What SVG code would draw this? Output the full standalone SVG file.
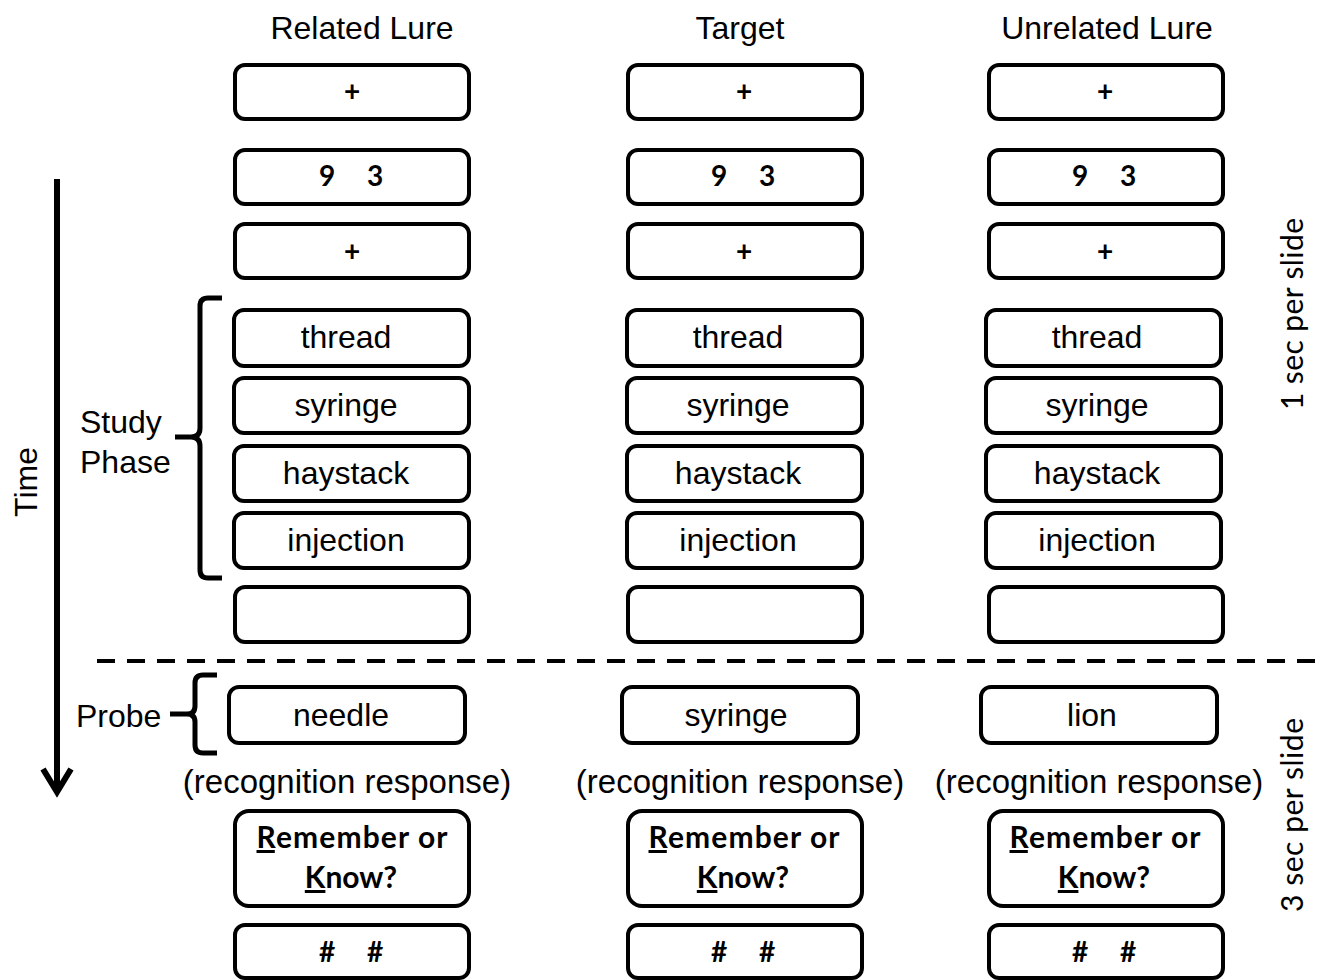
<svg xmlns="http://www.w3.org/2000/svg" width="1322" height="980" viewBox="0 0 1322 980">
<style>
.box{fill:#fff;stroke:#000;stroke-width:4}
.w{font-family:"Liberation Sans",Arial,sans-serif;font-size:32px;fill:#000;text-anchor:middle}
.rr{font-family:"Liberation Sans",Arial,sans-serif;font-size:33px;fill:#000;text-anchor:middle}
.h{font-family:"Liberation Sans",Arial,sans-serif;font-size:32px;fill:#000;text-anchor:middle}
.lbl{font-family:"Liberation Sans",Arial,sans-serif;font-size:32px;fill:#000}
.c{font-family:Lato,"Liberation Sans",sans-serif;font-weight:bold;font-size:28px;fill:#000;text-anchor:middle}
.k{font-family:Lato,"Liberation Sans",sans-serif;font-weight:bold;font-size:30px;fill:#000;text-anchor:middle}
.u{text-decoration:underline}
.r{font-family:Lato,"Liberation Sans",sans-serif;font-size:30px;fill:#000;text-anchor:middle}
.br{fill:none;stroke:#000;stroke-width:5;stroke-linejoin:round}
</style>
<g id="headers">
<text class="h" x="362" y="39">Related Lure</text>
<text class="h" x="740" y="39">Target</text>
<text class="h" x="1107" y="39">Unrelated Lure</text>
</g>
<g id="col1">
<g id="c1-fix1"><rect class="box" x="235" y="65" width="234" height="54" rx="10"/><text class="c" x="352" y="101">+</text></g>
<g id="c1-digits"><rect class="box" x="235" y="150" width="234" height="54" rx="10"/><text class="c" x="327" y="186">9</text><text class="c" x="375" y="186">3</text></g>
<g id="c1-fix2"><rect class="box" x="235" y="224" width="234" height="54" rx="10"/><text class="c" x="352" y="261">+</text></g>
<g id="c1-thread"><rect class="box" x="234" y="310" width="235" height="56" rx="10"/><text class="w" x="346" y="348">thread</text></g>
<g id="c1-syringe"><rect class="box" x="234" y="378" width="235" height="55" rx="10"/><text class="w" x="346" y="416">syringe</text></g>
<g id="c1-haystack"><rect class="box" x="234" y="446" width="235" height="55" rx="10"/><text class="w" x="346" y="484">haystack</text></g>
<g id="c1-injection"><rect class="box" x="234" y="513" width="235" height="55" rx="10"/><text class="w" x="346" y="551">injection</text></g>
<g id="c1-blank"><rect class="box" x="235" y="587" width="234" height="55" rx="10"/></g>
<g id="c1-probe"><rect class="box" x="229" y="687" width="236" height="56" rx="10"/><text class="w" x="341" y="726">needle</text></g>
<g id="c1-resp"><text class="rr" x="347" y="793">(recognition response)</text></g>
<g id="c1-rk"><rect class="box" x="235" y="811" width="234" height="95" rx="14"/><text class="k" x="352" y="848" textLength="191" lengthAdjust="spacing"><tspan class="u">R</tspan>emember or</text><text class="k" x="351" y="888"><tspan class="u">K</tspan>now?</text></g>
<g id="c1-hash"><rect class="box" x="235" y="925" width="234" height="53" rx="10"/><text class="c" x="327" y="962">#</text><text class="c" x="375" y="962">#</text></g>
</g>
<g id="col2">
<g id="c2-fix1"><rect class="box" x="628" y="65" width="234" height="54" rx="10"/><text class="c" x="744" y="101">+</text></g>
<g id="c2-digits"><rect class="box" x="628" y="150" width="234" height="54" rx="10"/><text class="c" x="719" y="186">9</text><text class="c" x="767" y="186">3</text></g>
<g id="c2-fix2"><rect class="box" x="628" y="224" width="234" height="54" rx="10"/><text class="c" x="744" y="261">+</text></g>
<g id="c2-thread"><rect class="box" x="627" y="310" width="235" height="56" rx="10"/><text class="w" x="738" y="348">thread</text></g>
<g id="c2-syringe"><rect class="box" x="627" y="378" width="235" height="55" rx="10"/><text class="w" x="738" y="416">syringe</text></g>
<g id="c2-haystack"><rect class="box" x="627" y="446" width="235" height="55" rx="10"/><text class="w" x="738" y="484">haystack</text></g>
<g id="c2-injection"><rect class="box" x="627" y="513" width="235" height="55" rx="10"/><text class="w" x="738" y="551">injection</text></g>
<g id="c2-blank"><rect class="box" x="628" y="587" width="234" height="55" rx="10"/></g>
<g id="c2-probe"><rect class="box" x="622" y="687" width="236" height="56" rx="10"/><text class="w" x="736" y="726">syringe</text></g>
<g id="c2-resp"><text class="rr" x="740" y="793">(recognition response)</text></g>
<g id="c2-rk"><rect class="box" x="628" y="811" width="234" height="95" rx="14"/><text class="k" x="744" y="848" textLength="191" lengthAdjust="spacing"><tspan class="u">R</tspan>emember or</text><text class="k" x="743" y="888"><tspan class="u">K</tspan>now?</text></g>
<g id="c2-hash"><rect class="box" x="628" y="925" width="234" height="53" rx="10"/><text class="c" x="719" y="962">#</text><text class="c" x="767" y="962">#</text></g>
</g>
<g id="col3">
<g id="c3-fix1"><rect class="box" x="989" y="65" width="234" height="54" rx="10"/><text class="c" x="1105" y="101">+</text></g>
<g id="c3-digits"><rect class="box" x="989" y="150" width="234" height="54" rx="10"/><text class="c" x="1080" y="186">9</text><text class="c" x="1128" y="186">3</text></g>
<g id="c3-fix2"><rect class="box" x="989" y="224" width="234" height="54" rx="10"/><text class="c" x="1105" y="261">+</text></g>
<g id="c3-thread"><rect class="box" x="986" y="310" width="235" height="56" rx="10"/><text class="w" x="1097" y="348">thread</text></g>
<g id="c3-syringe"><rect class="box" x="986" y="378" width="235" height="55" rx="10"/><text class="w" x="1097" y="416">syringe</text></g>
<g id="c3-haystack"><rect class="box" x="986" y="446" width="235" height="55" rx="10"/><text class="w" x="1097" y="484">haystack</text></g>
<g id="c3-injection"><rect class="box" x="986" y="513" width="235" height="55" rx="10"/><text class="w" x="1097" y="551">injection</text></g>
<g id="c3-blank"><rect class="box" x="989" y="587" width="234" height="55" rx="10"/></g>
<g id="c3-probe"><rect class="box" x="981" y="687" width="236" height="56" rx="10"/><text class="w" x="1092" y="726">lion</text></g>
<g id="c3-resp"><text class="rr" x="1099" y="793">(recognition response)</text></g>
<g id="c3-rk"><rect class="box" x="989" y="811" width="234" height="95" rx="14"/><text class="k" x="1105" y="848" textLength="191" lengthAdjust="spacing"><tspan class="u">R</tspan>emember or</text><text class="k" x="1104" y="888"><tspan class="u">K</tspan>now?</text></g>
<g id="c3-hash"><rect class="box" x="989" y="925" width="234" height="53" rx="10"/><text class="c" x="1080" y="962">#</text><text class="c" x="1128" y="962">#</text></g>
</g>
<g id="labels">
<text class="lbl" transform="translate(37,482) rotate(-90)" text-anchor="middle">Time</text>
<text class="lbl" x="80" y="433">Study</text>
<text class="lbl" x="80" y="473">Phase</text>
<text class="lbl" x="76" y="727">Probe</text>
<text class="r" transform="translate(1303,314) rotate(-90)" textLength="192" lengthAdjust="spacing">1 sec per slide</text>
<text class="r" transform="translate(1303,815) rotate(-90)" textLength="194" lengthAdjust="spacing">3 sec per slide</text>
</g>
<g id="connectors">
<line x1="57" y1="179" x2="57" y2="792" stroke="#000" stroke-width="6"/>
<polyline points="43,769 57,792 71,769" fill="none" stroke="#000" stroke-width="6" stroke-linejoin="miter"/>
<path class="br" d="M222,298 L208,298 Q200,298 200,306 L200,428 Q200,437 191,437 L175,437 M191,437 Q200,437 200,446 L200,570 Q200,578 208,578 L222,578"/>
<path class="br" d="M217,675 L203,675 Q195,675 195,683 L195,706 Q195,714 187,714 L170,714 M187,714 Q195,714 195,722 L195,745 Q195,753 203,753 L217,753"/>
<line x1="97" y1="661" x2="1322" y2="661" stroke="#000" stroke-width="4" stroke-dasharray="18 12"/>
</g>
</svg>
